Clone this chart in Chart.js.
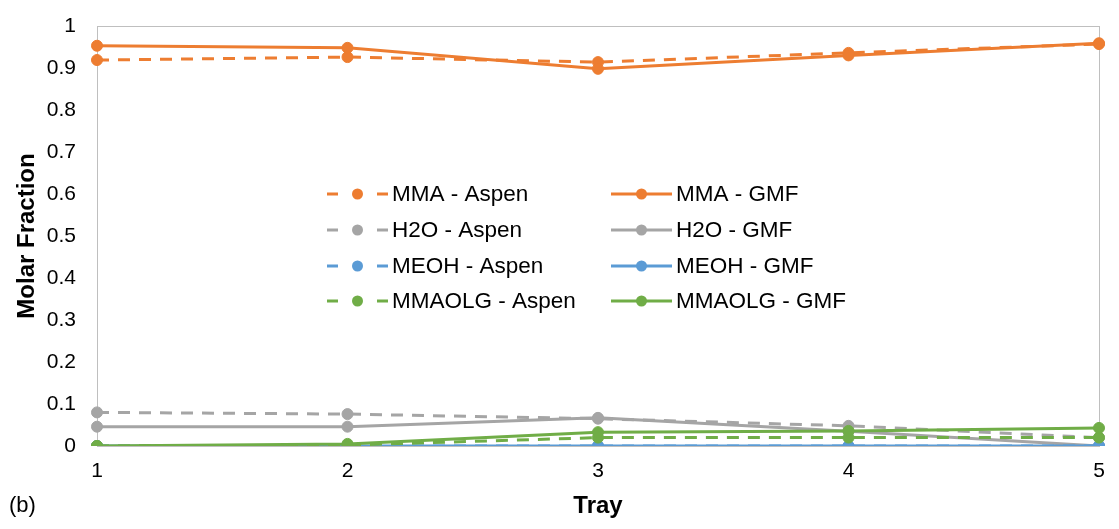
<!DOCTYPE html>
<html>
<head>
<meta charset="utf-8">
<script src="https://cdn.jsdelivr.net/npm/chart.js@4/dist/chart.umd.min.js"></script>
<style>
  html, body { margin: 0; padding: 0; background: #fff; }
  #wrap { position: relative; width: 1119px; height: 529px; }
  canvas { display: block; }
</style>
</head>
<body>
<div id="wrap"><canvas id="c" width="1119" height="529"></canvas></div>
<script>
// ---- data ----
const trays = ['1', '2', '3', '4', '5'];
const yTickLabels = ['0', '0.1', '0.2', '0.3', '0.4', '0.5', '0.6', '0.7', '0.8', '0.9', '1'];
const mmaAspen    = [0.919, 0.926, 0.914, 0.936, 0.957];
const mmaGmf      = [0.953, 0.948, 0.898, 0.930, 0.959];
const h2oAspen    = [0.080, 0.076, 0.065, 0.048, 0.020];
const h2oGmf      = [0.046, 0.046, 0.067, 0.035, 0.000];
const meohAspen   = [0.000, 0.000, 0.000, 0.000, 0.000];
const meohGmf     = [0.000, 0.000, 0.000, 0.000, 0.000];
const mmaolgAspen = [0.000, 0.002, 0.020, 0.020, 0.020];
const mmaolgGmf   = [0.000, 0.005, 0.033, 0.036, 0.043];
const seriesNames = ['MMA - Aspen', 'MMA - GMF', 'H2O - Aspen', 'H2O - GMF',
                     'MEOH - Aspen', 'MEOH - GMF', 'MMAOLG - Aspen', 'MMAOLG - GMF'];

const ORANGE = '#ED7D31', GRAY = '#A5A5A5', BLUE = '#5B9BD5', GREEN = '#70AD47';
const FONT = '"Liberation Sans", Arial, sans-serif';
const DASH = [12, 9];

function ds(label, data, color, dashed, idx) {
  return {
    label, data,
    borderColor: color, backgroundColor: color,
    pointBackgroundColor: color, pointBorderColor: color,
    borderWidth: 3, borderDash: dashed ? DASH : [],
    pointRadius: 5.5, pointHoverRadius: 5.5, pointBorderWidth: 1,
    tension: 0, fill: false,
    order: 10 - idx
  };
}

const allData = [mmaAspen, mmaGmf, h2oAspen, h2oGmf, meohAspen, meohGmf, mmaolgAspen, mmaolgGmf];
const colors = [ORANGE, ORANGE, GRAY, GRAY, BLUE, BLUE, GREEN, GREEN];
const datasets = allData.map((d, i) => ds(seriesNames[i], d, colors[i], i % 2 === 0, i));

const frame = {
  id: 'frame',
  beforeDatasetsDraw(chart) {
    const { ctx, chartArea: a } = chart;
    ctx.save();
    ctx.strokeStyle = '#BFBFBF';
    ctx.lineWidth = 1;
    ctx.strokeRect(Math.round(a.left) + 0.5, Math.round(a.top) + 0.5,
                   Math.round(a.right - a.left), Math.round(a.bottom - a.top));
    ctx.restore();
  }
};

const legendPlugin = {
  id: 'customLegend',
  afterDraw(chart) {
    const { ctx } = chart;
    const rowsY = [194, 230, 266, 301];
    const cols = [{ x0: 327, x1: 388, tx: 392 }, { x0: 611, x1: 672, tx: 676 }];
    ctx.save();
    chart.data.datasets.forEach((d, i) => {
      const row = Math.floor(i / 2), col = cols[i % 2];
      const y = rowsY[row];
      const mid = (col.x0 + col.x1) / 2;
      ctx.strokeStyle = d.borderColor;
      ctx.lineWidth = 3;
      ctx.beginPath();
      if (d.borderDash.length) {
        ctx.moveTo(col.x0, y); ctx.lineTo(col.x0 + 11, y);
        ctx.moveTo(col.x1 - 11, y); ctx.lineTo(col.x1, y);
      } else {
        ctx.moveTo(col.x0, y); ctx.lineTo(col.x1, y);
      }
      ctx.stroke();
      ctx.fillStyle = d.borderColor;
      ctx.beginPath(); ctx.arc(mid, y, 5.5, 0, Math.PI * 2); ctx.fill();
      ctx.fillStyle = '#000';
      ctx.font = '22.5px ' + FONT;
      ctx.textBaseline = 'middle';
      ctx.textAlign = 'left';
      ctx.fillText(d.label, col.tx, y + 1);
    });
    ctx.font = '22px ' + FONT;
    ctx.textBaseline = 'middle';
    ctx.fillText('(b)', 9, 506);
    ctx.restore();
  }
};

new Chart(document.getElementById('c'), {
  type: 'line',
  data: { labels: trays, datasets },
  options: {
    responsive: false,
    animation: false,
    events: [],
    layout: { padding: { top: 26, right: 20, left: 0, bottom: 0 } },
    plugins: { legend: { display: false }, tooltip: { enabled: false } },
    scales: {
      x: {
        type: 'category', offset: false,
        grid: { display: false, drawTicks: false },
        border: { display: false },
        ticks: { color: '#000', font: { size: 21, family: FONT }, padding: 13, maxRotation: 0 },
        title: { display: true, text: 'Tray', color: '#000',
                 font: { size: 24, weight: 'bold', family: FONT }, padding: { top: 0, bottom: 8 } },
        afterFit(s) { s.height = 83; s.paddingLeft = 0; s.paddingRight = 0; }
      },
      y: {
        min: 0, max: 1,
        grid: { display: false, drawTicks: false },
        border: { display: false },
        ticks: { stepSize: 0.1, color: '#000', font: { size: 21, family: FONT }, padding: 21,
                 callback: (v, i) => yTickLabels[i] },
        title: { display: true, text: 'Molar Fraction', color: '#000',
                 font: { size: 24, weight: 'bold', family: FONT }, padding: { top: 13, bottom: 0 } },
        afterFit(s) { s.width = 97; s.paddingTop = 0; s.paddingBottom = 0; }
      }
    }
  },
  plugins: [frame, legendPlugin]
});
</script>
</body>
</html>
